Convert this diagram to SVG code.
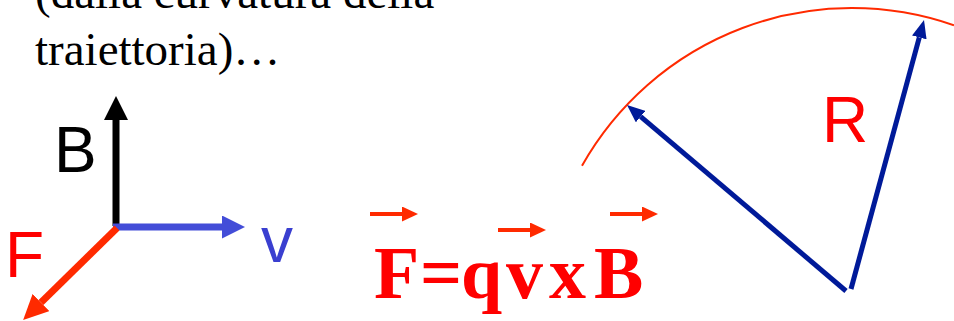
<svg xmlns="http://www.w3.org/2000/svg" width="954" height="321" viewBox="0 0 954 321">
<style>
.serif{font-family:"Liberation Serif","Times New Roman",serif;}
.sans{font-family:"Liberation Sans",Arial,sans-serif;}
.caption{font-size:47px;fill:#000;}
.formula{font-size:74px;font-weight:bold;fill:#FF0000;}
.lbl{font-size:64px;}
.vec{stroke:#FF2A00;stroke-width:4;fill:none;}
.radius{stroke:#001A99;stroke-width:5;fill:none;}
</style>
<defs>
<marker id="hB" markerUnits="userSpaceOnUse" viewBox="0 0 24 24" refX="0" refY="12" markerWidth="24" markerHeight="24" orient="auto"><path d="M0,0 L24,12 L0,24 z" fill="#000"/></marker>
<marker id="hV" markerUnits="userSpaceOnUse" viewBox="0 0 23 23" refX="0" refY="11.5" markerWidth="23" markerHeight="23" orient="auto"><path d="M0,0 L23,11.5 L0,23 z" fill="#434DD8"/></marker>
<marker id="hF" markerUnits="userSpaceOnUse" viewBox="0 0 25 24" refX="0" refY="12" markerWidth="25" markerHeight="24" orient="auto"><path d="M0,0 L25,12 L0,24 z" fill="#FF2A00"/></marker>
<marker id="hS" markerUnits="userSpaceOnUse" viewBox="0 0 16 15" refX="0" refY="7.5" markerWidth="16" markerHeight="15" orient="auto"><path d="M0,0 L16,7.5 L0,15 z" fill="#FF2A00"/></marker>
<marker id="hR" markerUnits="userSpaceOnUse" viewBox="0 0 18 15" refX="0" refY="7.5" markerWidth="18" markerHeight="15" orient="auto"><path d="M0,0 L18,7.5 L0,15 z" fill="#001A99"/></marker>
</defs>
<g id="caption">
<text class="serif caption" x="35" y="8">(dalla curvatura della</text>
<text class="serif caption" x="35" y="65">traiettoria)…</text>
</g>
<g id="connectors">
<line x1="116" y1="226" x2="116" y2="120" stroke="#000" stroke-width="7" marker-end="url(#hB)"/>
<line x1="113" y1="227" x2="222" y2="227" stroke="#434DD8" stroke-width="7" marker-end="url(#hV)"/>
<line x1="117" y1="228" x2="41" y2="302.5" stroke="#FF2A00" stroke-width="7" marker-end="url(#hF)"/>
<line class="vec" x1="370" y1="214" x2="402" y2="214" marker-end="url(#hS)"/>
<line class="vec" x1="498" y1="230" x2="530" y2="230" marker-end="url(#hS)"/>
<line class="vec" x1="610" y1="214" x2="642" y2="214" marker-end="url(#hS)"/>
<path d="M582 165.7 A310 310 0 0 1 954 25.3" stroke="#FF2A00" stroke-width="2" fill="none"/>
<line class="radius" x1="846" y1="291" x2="640.7" y2="116.6" marker-end="url(#hR)"/>
<line class="radius" x1="851" y1="289" x2="919.3" y2="37.4" marker-end="url(#hR)"/>
</g>
<g id="label-B"><text class="sans lbl" x="54" y="172" font-size="60" fill="#000">B</text></g>
<g id="label-F"><text class="sans lbl" x="5" y="277" fill="#FF0000">F</text></g>
<g id="label-v"><text class="sans lbl" x="261" y="262" fill="#3A3FD0">v</text></g>
<g id="label-R"><text class="sans lbl" x="822" y="142" fill="#FF0000">R</text></g>
<g id="formula"><text class="serif formula" x="374 420 461 506 549 594" y="298">F=qvxB</text></g>
</svg>
